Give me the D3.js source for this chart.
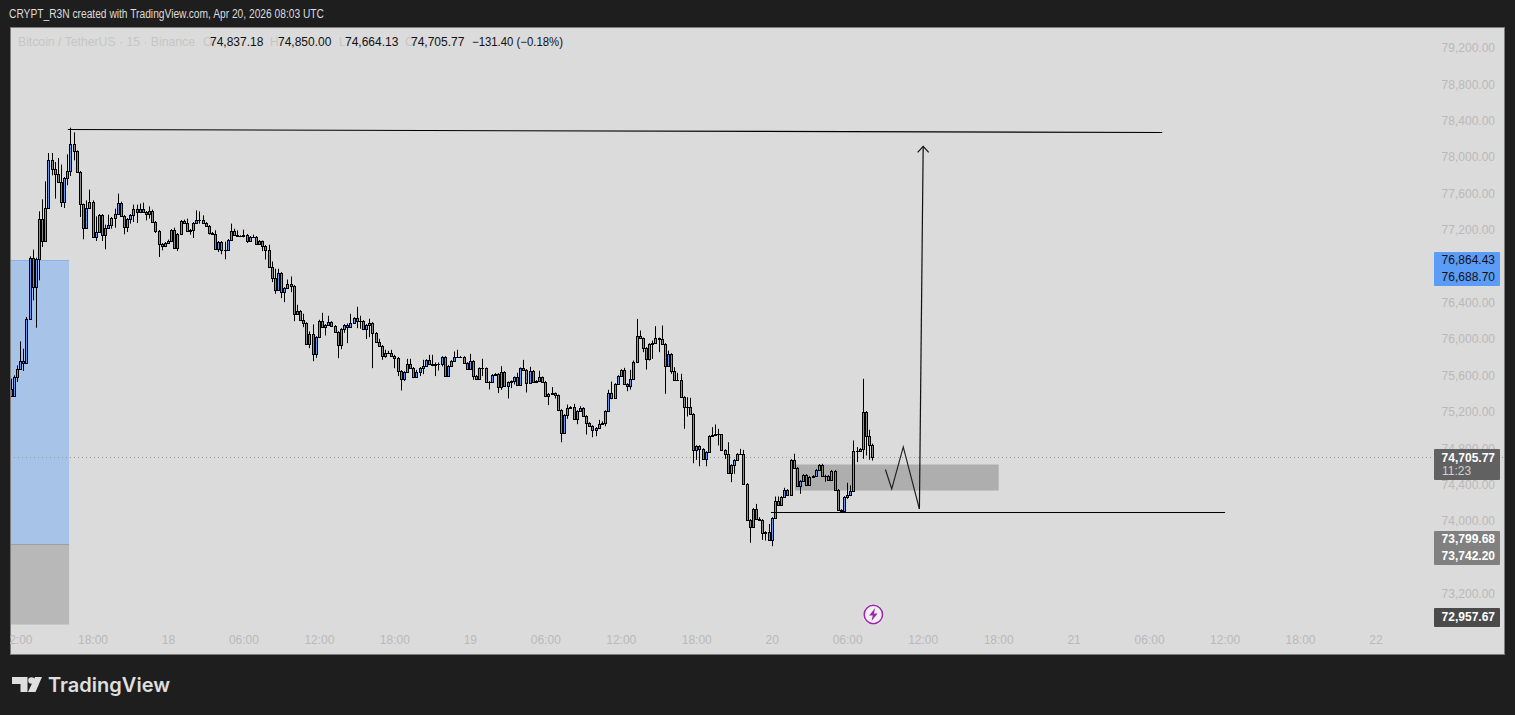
<!DOCTYPE html>
<html><head><meta charset="utf-8">
<script src="https://cdnjs.cloudflare.com/ajax/libs/d3/7.9.0/d3.min.js"></script>
<style>html,body{margin:0;padding:0;background:#1e1e1e;overflow:hidden}svg{display:block}text{font-family:"Liberation Sans",Arial,sans-serif}</style>
</head><body><svg id="c" width="1515" height="715"></svg>
<script>
const startTime = "2026-04-17T11:30:00Z";
const firstOpen = 75455;
const closes = [75378,75583,75675,75763,75741,76224,76895,76572,76884,77324,77078,77445,77973,77874,77819,77731,77507,77775,77852,78148,78068,77841,77489,77225,77445,77511,77126,77181,77368,77148,77225,77258,77335,77379,77500,77357,77236,77324,77368,77434,77401,77434,77401,77379,77412,77291,77192,77049,77027,77060,77082,77203,77005,77159,77302,77280,77192,77203,77280,77313,77313,77280,77247,77170,77159,76994,77071,76983,76983,77093,77192,77148,77137,77133,77148,77082,77126,77126,77049,77082,
77026,76982,76795,76674,76542,76729,76520,76564,76608,76586,76278,76311,76212,76179,75944,76058,75838,76025,76201,76135,76157,76190,76146,76080,75937,76113,76157,76135,76179,76234,76201,76201,76113,76157,76179,76069,75970,75926,75816,75849,75849,75816,75794,75651,75560,75640,75728,75684,75581,75640,75684,75706,75772,75728,75717,75728,75721,75805,75596,75706,75761,75805,75805,75805,75739,75673,75761,75596,75560,75680,75680,75530,75530,75607,75618,75475,75640,75486,75527,75538,75581,75497,75680,75662,75519,75651,75530,75541,75581,75530,75376,75398,75406,75384,75219,
74969,75167,75244,75255,75123,75211,75244,75156,75079,75046,75002,75024,75068,75079,75211,75409,75354,75508,75596,75662,75508,75486,75563,75750,76035,76010,75904,75783,75948,75958,76010,75999,75948,75706,75838,75651,75552,75552,75365,75255,75255,75178,74782,74826,74793,74683,74760,74936,74947,74958,74958,74782,74738,74529,74617,74672,74738,74738,74408,74012,73932,74133,74023,74012,73869,73880,73792,74034,74221,74177,
74266,74343,74288,74673,74585,74387,74442,74508,74398,74486,74497,74563,74618,74497,74497,74453,74552,74343,74123,74112,74266,74288,74332,74772,74772,74794,75200,74937,74837,74705.77];
const highs = [75565,75601,75711,75975,75894,76243,76910,76983,76895,77404,77536,77734,78046,78046,77947,77991,77918,77782,78031,78324,78273,78075,77848,77489,77525,77643,77525,77349,77375,77375,77258,77368,77342,77434,77599,77511,77364,77331,77375,77478,77478,77489,77500,77408,77459,77423,77298,77199,77056,77067,77093,77210,77225,77166,77309,77313,77324,77210,77287,77415,77404,77360,77287,77254,77177,77196,77078,77078,77071,77100,77269,77214,77196,77141,77203,77155,77133,77148,77133,77089,
77084,77033,77037,76853,76773,76773,76736,76571,76655,76688,76593,76377,76318,76278,76186,76084,76161,76032,76212,76289,76164,76256,76197,76153,76087,76120,76164,76172,76278,76241,76355,76256,76208,76164,76223,76186,76076,76003,75933,75882,75871,75882,75827,75802,75659,75647,75783,75783,75692,75662,75692,75772,75779,75827,75827,75743,75743,75812,75812,75714,75768,75864,75882,75812,75812,75746,75838,75768,75604,75688,75783,75688,75538,75615,75626,75626,75702,75647,75534,75545,75589,75629,75688,75772,75670,75695,75659,75548,75651,75589,75538,75406,75472,75413,75391,
75229,75174,75280,75262,75288,75218,75262,75251,75163,75086,75053,75031,75112,75097,75218,75442,75533,75515,75603,75669,75684,75515,75662,75764,76222,76094,76017,75911,75955,75984,76142,76017,76149,75955,75874,75845,75691,75629,75618,75372,75361,75354,75185,74833,74833,74800,74767,74943,75031,75061,75013,74954,74789,74866,74624,74679,74745,74793,74782,74416,74020,74141,74188,74042,74020,73888,73968,74042,74269,74269,
74273,74365,74350,74680,74739,74592,74449,74515,74515,74493,74504,74570,74625,74629,74508,74504,74559,74559,74350,74130,74273,74420,74391,74885,74812,74801,75563,75208,75003,74850];
const lows = [75370,75370,75528,75664,75649,76059,76217,76426,76125,76646,77012,77078,77445,77800,77544,77723,77452,77441,77690,77793,77965,77833,77342,77097,77218,77437,77119,77078,77174,77078,76987,77218,77214,77225,77371,77349,77152,77177,77269,77287,77276,77393,77393,77305,77324,77284,77166,76902,76976,77020,77053,77075,76998,76968,77152,77273,77185,77148,77111,77273,77269,77273,77240,77148,77152,76987,76957,76932,76877,76976,77086,77141,77130,77126,77119,77056,77075,77119,77042,77042,
76967,76875,76787,76626,76498,76534,76450,76406,76556,76516,76197,76271,76205,76131,75937,75900,75757,75794,76018,76128,76040,76150,76139,76073,75790,75889,76069,75955,76128,76172,76120,76113,76106,76000,76021,75680,75963,75919,75772,75794,75842,75809,75680,75593,75435,75538,75633,75677,75571,75574,75593,75615,75699,75721,75702,75593,75655,75699,75589,75589,75699,75754,75798,75798,75732,75666,75666,75552,75549,75552,75593,75523,75446,75523,75600,75406,75442,75479,75347,75461,75501,75490,75490,75655,75413,75512,75523,75516,75534,75523,75369,75274,75391,75347,75208,
74866,74962,75123,75237,75116,75064,75203,75149,74951,75039,74921,74932,75017,75061,75042,75203,75339,75346,75500,75588,75500,75427,75445,75555,75742,76002,75856,75665,75764,75783,75951,75856,75940,75398,75698,75618,75544,75544,75357,75013,75149,75171,74635,74672,74602,74676,74602,74753,74929,74940,74830,74775,74683,74522,74427,74518,74665,74731,74401,74005,73760,73924,74016,74005,73792,73785,73785,73723,74027,74170,
74171,74259,74281,74281,74577,74380,74299,74435,74391,74391,74479,74490,74556,74490,74431,74446,74446,74336,74116,74094,74105,74244,74281,74325,74647,74764,74684,74720,74673,74664.13];
const priceTicks = [79200,78800,78400,78000,77600,77200,76400,76000,75600,75200,74800,74400,74000,73200];
const dateTicks = ["2026-04-18","2026-04-19","2026-04-20","2026-04-21","2026-04-22"];
const dayLabels = ["18","19","20","21","22"];
const hourTicks = ["2026-04-17T12:00Z","2026-04-17T18:00Z","2026-04-18T06:00Z","2026-04-18T12:00Z","2026-04-18T18:00Z","2026-04-19T06:00Z","2026-04-19T12:00Z","2026-04-19T18:00Z","2026-04-20T06:00Z","2026-04-20T12:00Z","2026-04-20T18:00Z","2026-04-21T06:00Z","2026-04-21T12:00Z","2026-04-21T18:00Z"];
const resistanceTimes = ["2026-04-17T16:00Z","2026-04-21T07:00Z"], resistancePrices = [78304,78271];
const supportTimes = ["2026-04-19T23:54Z","2026-04-21T12:00Z"], supportPrices = [74093,74093];
const zigzagTimes = ["2026-04-20T09:00Z","2026-04-20T09:30Z","2026-04-20T10:25Z","2026-04-20T11:42Z"], zigzagPrices = [74566,74352,74814,74132];
const arrowTimes = ["2026-04-20T11:42Z","2026-04-20T12:00Z"], arrowPrices = [74132,78118];
const zoneTimes = ["2026-04-20T01:48Z","2026-04-20T18:00Z"], zonePrices = [74621,74335];
const rangeTimes = ["2026-04-17T10:00Z","2026-04-17T16:06Z"];
const targetPrices = [76864.43,73742.20], stopPrices = [73742.20,72862];
const lastPrice = 74705.77, countdown = "11:23";
const legendValues = [74837.18,74850.00,74664.13,74705.77];
const legendKeys = ["O","H","L","C"];

const svg = d3.select("#c");
const W0=10,W1=1505,T0=27,T1=655;
const y = d3.scaleLinear().domain([74000,79200]).range([521,48]);
const x = d3.scaleUtc().domain([new Date("2026-04-17T18:00Z"),new Date("2026-04-22T00:00Z")]).range([93,1376]);
const t = s=>new Date(s);
const t0 = new Date(startTime).getTime();
const bars = closes.map((c,i)=>({time:new Date(t0+i*9e5),open:i?closes[i-1]:firstOpen,high:highs[i],low:lows[i],close:c}));

svg.append("rect").attr("width",1515).attr("height",715).attr("fill","#1e1e1e");
svg.append("rect").attr("x",W0).attr("y",T0).attr("width",W1-W0).attr("height",T1-T0).attr("fill","#dbdbdb");
const defs=svg.append("defs");
defs.append("clipPath").attr("id","pane").append("rect").attr("x",W0).attr("y",T0).attr("width",W1-W0).attr("height",T1-T0);
const g = svg.append("g").attr("clip-path","url(#pane)");

// range boxes
g.append("rect").attr("x",x(t(rangeTimes[0]))).attr("width",x(t(rangeTimes[1]))-x(t(rangeTimes[0])))
 .attr("y",y(targetPrices[0])).attr("height",y(targetPrices[1])-y(targetPrices[0])).attr("fill","#a8c3e8");
g.append("line").attr("x1",x(t(rangeTimes[0]))).attr("x2",x(t(rangeTimes[1]))).attr("y1",Math.round(y(targetPrices[0]))+.5).attr("y2",Math.round(y(targetPrices[0]))+.5).attr("stroke","#8fb2e6");
g.append("rect").attr("x",x(t(rangeTimes[0]))).attr("width",x(t(rangeTimes[1]))-x(t(rangeTimes[0])))
 .attr("y",y(stopPrices[0])).attr("height",y(stopPrices[1])-y(stopPrices[0])).attr("fill","#b8b8b8");
g.append("line").attr("x1",x(t(rangeTimes[0]))).attr("x2",x(t(rangeTimes[1]))).attr("y1",Math.round(y(stopPrices[0]))+.5).attr("y2",Math.round(y(stopPrices[0]))+.5).attr("stroke","#9f9f9f");
// zone
g.append("rect").attr("x",x(t(zoneTimes[0]))).attr("width",x(t(zoneTimes[1]))-x(t(zoneTimes[0])))
 .attr("y",y(zonePrices[0])).attr("height",y(zonePrices[1])-y(zonePrices[0])).attr("fill","#aeaeae");
// last price line
g.append("line").attr("x1",W0).attr("x2",W1).attr("y1",Math.round(y(lastPrice))+.5).attr("y2",Math.round(y(lastPrice))+.5)
 .attr("stroke","#9a9a9a").attr("stroke-width",1).attr("stroke-dasharray","1 3");

// candles
const cg=g.append("g");
const px=d=>Math.floor(x(d.time));
cg.selectAll("line.w").data(bars).join("line").attr("class","w")
 .attr("x1",d=>px(d)+.5).attr("x2",d=>px(d)+.5).attr("y1",d=>y(d.high)).attr("y2",d=>y(d.low))
 .attr("stroke","#000").attr("stroke-width",1);
cg.selectAll("rect.b").data(bars).join("rect").attr("class","b")
 .attr("x",d=>px(d)-.5).attr("width",2)
 .attr("y",d=>Math.round(y(Math.max(d.open,d.close)))+.5)
 .attr("height",d=>Math.max(0.01,Math.round(y(Math.min(d.open,d.close)))-Math.round(y(Math.max(d.open,d.close)))))
 .attr("fill",d=>d.close>=d.open?"#5b9cf6":"#8a8a8a").attr("stroke","#000").attr("stroke-width",1);

// trend lines
const line=d3.line().x(d=>x(t(d[0]))).y(d=>y(d[1]));
const an=g.append("g").attr("fill","none");
an.append("path").attr("d",line(d3.zip(resistanceTimes,resistancePrices))).attr("stroke","#000").attr("stroke-width",1.1);
an.append("path").attr("d",line(d3.zip(supportTimes,supportPrices))).attr("stroke","#000").attr("stroke-width",1.1);
an.append("path").attr("d",line(d3.zip(zigzagTimes,zigzagPrices))).attr("stroke","#222").attr("stroke-width",1.2);
an.append("path").attr("d",line(d3.zip(arrowTimes,arrowPrices))).attr("stroke","#111").attr("stroke-width",1.2);
const ax=x(t(arrowTimes[1])),ay=y(arrowPrices[1]);
an.append("path").attr("d",d3.line()([[ax-5.5,ay+6],[ax,ay],[ax+5.5,ay+6]])).attr("stroke","#111").attr("stroke-width",1.2);

// pane border
svg.append("rect").attr("x",W0+.5).attr("y",T0+.5).attr("width",W1-W0-1).attr("height",T1-T0-1).attr("fill","none").attr("stroke","#7d7d7d");

// axis labels
const axisCol="#b9b9b9";
const yAxis=d3.axisRight(y).tickValues(priceTicks).tickSize(0).tickPadding(0).tickFormat(d3.format(",.2f"));
const ya=svg.append("g").attr("transform","translate(1495,0)").call(yAxis);
ya.select(".domain").remove();
ya.selectAll("text").attr("x",0).attr("text-anchor","end").attr("fill",axisCol).style("font-size","12px").style("font-family",'"Liberation Sans",Arial,sans-serif');

const xTicks=[...hourTicks.map(s=>({d:t(s),l:d3.utcFormat("%H:%M")(t(s))})),...dateTicks.map((s,i)=>({d:new Date(s+"T00:00Z"),l:dayLabels[i]}))];
svg.append("g").attr("clip-path","url(#pane)").selectAll("text").data(xTicks).join("text")
 .attr("x",d=>x(d.d)).attr("y",644).attr("text-anchor","middle").attr("fill",axisCol).attr("font-size",12).text(d=>d.l);

// price tags
function tag(y0,y1,fill,rows){
 svg.append("rect").attr("x",1434).attr("y",y0).attr("width",66).attr("height",y1-y0).attr("fill",fill).attr("rx",1);
 rows.forEach(r=>svg.append("text").attr("x",r.x||1495).attr("y",r.y).attr("text-anchor",r.x?"start":"end").attr("fill",r.c).attr("font-size",12).attr("font-weight",r.w||400).text(r.t));
}
const f2=d3.format(",.2f");
tag(252,286,"#5b9cf6",[{y:264,t:f2(76864.43),c:"#111"},{y:281,t:f2(76688.70),c:"#111"}]);
tag(449,480,"#616161",[{y:462,t:f2(lastPrice),c:"#fff",w:700},{y:475,x:1442,t:countdown,c:"#d0d0d0"}]);
tag(531,565,"#808080",[{y:543,t:f2(73799.68),c:"#fff",w:700},{y:560,t:f2(73742.20),c:"#fff",w:700}]);
tag(608,627,"#4a4a4a",[{y:621,t:f2(72957.67),c:"#fff",w:700}]);

// header
svg.append("text").attr("x",9).attr("y",18).attr("fill","#dcdcdc").attr("font-size",12).attr("textLength",315).attr("lengthAdjust","spacingAndGlyphs").text("CRYPT_R3N created with TradingView.com, Apr 20, 2026 08:03 UTC");
svg.append("text").attr("x",18).attr("y",46).attr("fill","#c6c6c6").attr("font-size",12).attr("textLength",177).attr("lengthAdjust","spacingAndGlyphs").text("Bitcoin / TetherUS · 15 · Binance");
const legendX=[203,270,339,405], legendVX=[210,278,345,411];
legendKeys.forEach((k,i)=>{
 svg.append("text").attr("x",legendX[i]).attr("y",46).attr("fill","#c6c6c6").attr("font-size",12).text(k);
 svg.append("text").attr("x",legendVX[i]).attr("y",46).attr("fill","#111").attr("font-size",12).text(f2(legendValues[i]));
});
svg.append("text").attr("x",472).attr("y",46).attr("fill","#111").attr("font-size",12).attr("textLength",91).attr("lengthAdjust","spacingAndGlyphs").text("−131.40 (−0.18%)");

// event badge
const bx=x(t("2026-04-20T08:00Z"))+.5,by=614.5;
svg.append("circle").attr("cx",bx).attr("cy",by).attr("r",10.5).attr("fill","#f4f4f4");
svg.append("circle").attr("cx",bx).attr("cy",by).attr("r",9.2).attr("fill","#f0f0f0").attr("stroke","#9c27b0").attr("stroke-width",1.6);
svg.append("path").attr("transform",`translate(${bx},${by}) scale(1.2)`).attr("d","M1.5,-5.5 L-3.5,0.8 L-0.5,0.8 L-1.5,5.5 L3.5,-0.8 L0.5,-0.8 Z").attr("fill","#9c27b0");

// logo
const logo=svg.append("g").attr("fill","#dfdfdf");
logo.append("path").attr("d","M12,677 H27.5 V692 H20.5 V684 H12 Z");
logo.append("circle").attr("cx",31.5).attr("cy",680.5).attr("r",3.3);
logo.append("path").attr("d","M35,677 H42 L35.5,692 H28 Z");
svg.append("text").attr("x",48).attr("y",692).attr("fill","#dfdfdf").attr("font-size",20).attr("font-weight",600).attr("textLength",122).attr("lengthAdjust","spacingAndGlyphs").style("font-family","Inter").text("TradingView");
</script></body></html>
